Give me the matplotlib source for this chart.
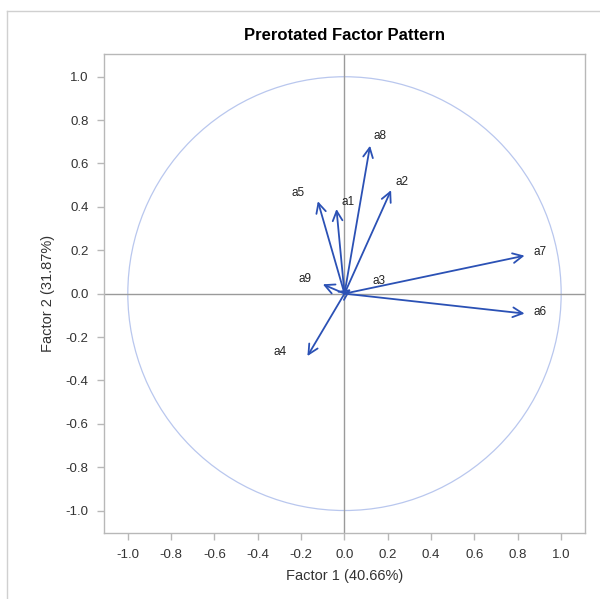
import matplotlib
matplotlib.use("Agg")
import matplotlib.pyplot as plt
from matplotlib.patches import Circle
from matplotlib.lines import Line2D

plt.rcParams['font.family'] = ['Liberation Sans', 'DejaVu Sans']

# factor loadings
names = ['a1', 'a2', 'a3', 'a4', 'a5', 'a6', 'a7', 'a8', 'a9']
factor1 = [-0.037, 0.215, 0.03, -0.171, -0.123, 0.831, 0.831, 0.118, -0.100]
factor2 = [0.390, 0.477, 0.02, -0.288, 0.426, -0.092, 0.175, 0.682, 0.043]
ticks = [-1.0, -0.8, -0.6, -0.4, -0.2, 0.0, 0.2, 0.4, 0.6, 0.8, 1.0]

# label offsets in points from each arrow tip
label_off = {'a1': (8, 5), 'a2': (8, 6), 'a3': (20, 6), 'a4': (-20, 3),
             'a5': (-14, 6), 'a6': (11, 1), 'a7': (11, 3), 'a8': (7, 7),
             'a9': (-13, 4)}

blue = '#2b51b5'
grey = '#b8b8b8'

fig = plt.figure(figsize=(6.0, 5.99), dpi=100)
ax = fig.add_axes([0.1733, 0.1097, 0.8017, 0.8002])

# outer frame (left and top edges only visible)
fig.add_artist(Line2D([7/600, 7/600], [0, 1 - 11/599], transform=fig.transFigure,
                      color='#d0d0d0', lw=1))
fig.add_artist(Line2D([7/600, 1], [1 - 11/599, 1 - 11/599], transform=fig.transFigure,
                      color='#d0d0d0', lw=1))

ax.add_patch(Circle((0, 0), 1.0, fill=False, ec='#b9c7ee', lw=0.9))
ax.axhline(0, color='#9a9a9a', lw=1.0, zorder=1)
ax.axvline(0, color='#9a9a9a', lw=1.0, zorder=1)

for n, x, y in zip(names, factor1, factor2):
    ax.annotate('', xy=(x, y), xytext=(0, 0),
                arrowprops=dict(arrowstyle='->,head_length=0.7,head_width=0.35',
                                color=blue, lw=1.3, shrinkA=0, shrinkB=0))
    dx, dy = label_off[n]
    ax.annotate(n, xy=(x, y), xytext=(dx, dy), textcoords='offset points',
                ha='center', va='center', fontsize=8.5, color='#222222')

ax.set_xlim(-1.11, 1.11)
ax.set_ylim(-1.105, 1.105)
ax.set_xticks(ticks)
ax.set_yticks(ticks)
ax.set_xticklabels(['%.1f' % t for t in ticks])
ax.set_yticklabels(['%.1f' % t for t in ticks])
ax.tick_params(length=5, width=1, color=grey, labelsize=9.5, labelcolor='#333333', pad=6)
for s in ax.spines.values():
    s.set_color(grey)
    s.set_linewidth(1)

ax.set_title('Prerotated Factor Pattern', fontsize=12, fontweight='bold', pad=10)
ax.set_xlabel('Factor 1 (40.66%)', fontsize=10.5, color='#333333', labelpad=6)
ax.set_ylabel('Factor 2 (31.87%)', fontsize=10.5, color='#333333', labelpad=8)

fig.savefig('out.png', dpi=100)
